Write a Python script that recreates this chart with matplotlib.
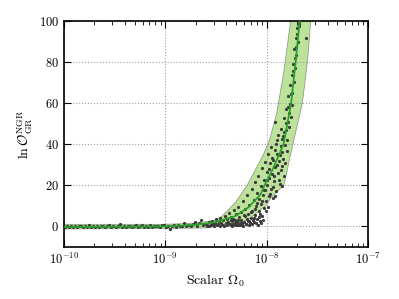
import numpy as np
import matplotlib
matplotlib.use('Agg')
import matplotlib.pyplot as plt

# --- data (x given as log10 Omega_0) ---
med_logx = [-10.0, -9.0, -8.7, -8.51, -8.31, -8.18, -8.06, -8.02, -7.94,
            -7.832, -7.757, -7.713, -7.673, -7.65]
med_y = [-0.3, 0.0, 0.8, 2.0, 5.0, 9.2, 15.5, 20.0, 27.7,
         40.0, 60.0, 80.0, 100.0, 112.0]

# band: upper (left) edge and lower (right) edge
up_logx = [-10.0, -9.0, -8.7, -8.505, -8.439, -8.307, -8.191, -8.109,
           -8.03, -7.97, -7.90, -7.83, -7.762, -7.74]
up_y = [1.0, 1.0, 1.6, 3.0, 5.0, 11.6, 20.0, 27.7,
        35.0, 42.0, 55.0, 75.0, 100.0, 110.0]
lo_logx = [-10.0, -9.0, -8.6, -8.307, -8.178, -8.01, -7.944, -7.829,
           -7.795, -7.752, -7.647, -7.597, -7.564, -7.55]
lo_y = [-1.2, -1.0, -0.7, 1.0, 3.4, 10.0, 14.7, 20.0,
        27.7, 37.4, 60.0, 80.0, 100.0, 106.0]

# individual runs, flat part (Omega_0 < 2.5e-9)
flat_logx = [
    -9.99, -9.97, -9.95, -9.93, -9.91, -9.89, -9.87, -9.85, -9.83, -9.81,
    -9.79, -9.77, -9.75, -9.73, -9.71, -9.69, -9.67, -9.65, -9.63, -9.61,
    -9.59, -9.57, -9.55, -9.53, -9.51, -9.49, -9.47, -9.45, -9.43, -9.41,
    -9.39, -9.37, -9.35, -9.33, -9.31, -9.29, -9.27, -9.25, -9.23, -9.21,
    -9.19, -9.17, -9.15, -9.13, -9.11, -9.09, -9.07, -9.05, -9.03, -9.01,
    -8.99, -8.97, -8.95, -8.93, -8.91, -8.89, -8.87, -8.85, -8.83, -8.81,
    -8.79, -8.77, -8.75, -8.73, -8.71, -8.69, -8.67, -8.65, -8.63, -8.61,
    -8.59,
]
flat_y = [
    -0.3, 0.1, -0.4, 0.2, -0.2, 0.3, -0.5, 0.0, 0.4, -0.3,
    0.2, -0.1, 0.5, -0.4, 0.1, -0.2, 0.3, -0.3, 0.1, 0.4,
    -0.4, 0.0, 0.9, -0.2, 0.3, -0.1, 0.2, 1.0, -0.3, 0.2,
    -0.5, 0.4, 0.0, -0.2, 0.3, 0.6, -0.4, 0.1, 0.5, -0.2,
    0.3, -0.3, 0.8, -0.1, 0.4, 0.0, 0.2, -0.3, 0.6, 0.9,
    -0.1, 0.4, -1.2, 0.2, 0.6, -0.3, 0.9, 0.3, 0.1, 1.5,
    0.4, 0.7, 0.1, 1.2, 2.0, 0.4, 1.6, 3.3, 0.6, 1.1,
    0.2,
]

# individual runs, rising part
rise_logx = [
    -8.583, -8.571, -8.566, -8.552, -8.547, -8.538, -8.524, -8.519, -8.507,
    -8.498, -8.489, -8.476, -8.471, -8.462, -8.455, -8.447, -8.433, -8.428,
    -8.417, -8.409, -8.402, -8.394, -8.386, -8.377, -8.371, -8.362, -8.355,
    -8.346, -8.338, -8.331, -8.324, -8.316, -8.309, -8.302, -8.297,
    -8.288, -8.281, -8.276, -8.268, -8.259, -8.253, -8.247, -8.238, -8.233,
    -8.226, -8.219, -8.211, -8.205, -8.197, -8.192, -8.184, -8.176, -8.169,
    -8.161, -8.155, -8.148, -8.142, -8.134, -8.128, -8.121, -8.114, -8.109,
    -8.103, -8.097, -8.091, -8.084, -8.078, -8.072, -8.066, -8.059, -8.053,
    -8.047, -8.041, -8.036, -8.029, -8.024, -8.018,
    -8.012, -8.006, -7.998, -7.991, -7.985, -7.978, -7.972, -7.966, -7.959,
    -7.953, -7.946, -7.940, -7.934, -7.927, -7.918, -7.915, -7.908, -7.902,
    -7.896, -7.889, -7.882, -7.876, -7.869, -7.862, -7.856, -7.849, -7.843,
    -7.836, -7.829, -7.823, -7.817, -7.811, -7.804, -7.798, -7.791, -7.785,
    -7.779, -7.772, -7.766, -7.759, -7.752, -7.746, -7.739, -7.733, -7.726,
    -7.720, -7.713, -7.707, -7.700, -7.694, -7.688, -7.681, -7.675, -7.614,
]
rise_y = [
    0.9, 2.1, 0.2, 1.4, 0.6, 2.7, 1.0, 0.3, 1.9,
    3.4, 0.7, 1.2, 2.4, 0.4, 4.1, 1.7, 0.9, 2.9,
    0.3, 5.2, 1.5, 3.6, 0.8, 2.2, 6.3, 1.1, 0.5,
    4.5, 2.6, 1.3, 8.1, 0.6, 3.1, 5.9, 1.7,
    2.3, 9.4, 0.8, 4.7, 1.9, 7.2, 3.1, 0.9, 12.5,
    5.4, 2.2, 8.6, 1.4, 3.8, 15.3, 6.1, 2.7, 10.4,
    1.6, 4.3, 18.2, 7.7, 3.0, 12.9, 2.1, 21.4, 5.6,
    9.8, 16.1, 3.5, 24.6, 7.4, 13.3, 2.6, 19.5, 10.7,
    28.3, 5.1, 15.2, 22.8, 8.9, 31.5,
    17.6, 12.3, 26.4, 20.1, 35.2, 14.8, 23.7, 30.9, 18.4,
    38.6, 25.5, 13.6, 32.1, 21.9, 51.0, 28.7, 40.3, 17.2,
    35.4, 26.2, 44.7, 31.6, 20.8, 38.9, 47.5, 29.3, 36.1,
    43.8, 24.5, 52.6, 39.4, 47.1, 57.3, 42.2, 50.8, 63.5,
    55.4, 68.9, 59.7, 53.2, 73.6, 64.8, 79.1, 70.4, 86.3,
    76.9, 91.5, 83.2, 96.4, 89.7, 99.2, 97.3, 99.6, 91.6,
]

# more runs in the rising part (second batch)
more_logx = [
    -8.352, -8.341, -8.327, -8.313, -8.292, -8.284, -8.263, -8.242, -8.228,
    -8.214, -8.199, -8.187, -8.172, -8.158, -8.139, -8.125, -8.117, -8.106,
    -8.094, -8.087, -8.075, -8.062, -8.055, -8.044, -8.033, -8.021, -8.008,
    -7.995, -7.982, -7.975, -7.962, -7.949, -7.938, -7.929, -7.921, -7.912,
    -7.899, -7.892, -7.879, -7.872, -7.859, -7.852, -7.846, -7.839, -7.826,
    -7.814, -7.807, -7.794, -7.788, -7.776, -7.763, -7.749, -7.736, -7.722,
    -7.710, -7.697, -7.684,
]
more_y = [
    2.9, 0.4, 3.7, 1.9, 0.5, 3.3, 0.6, 1.8, 0.4,
    4.9, 1.1, 2.4, 0.7, 6.8, 1.2, 3.9, 8.3, 1.9,
    11.6, 0.9, 4.6, 6.2, 1.5, 12.4, 3.2, 17.9, 7.5,
    22.6, 9.6, 27.8, 15.9, 33.5, 19.1, 24.4, 37.2, 14.6,
    29.8, 41.9, 22.7, 34.8, 27.4, 42.6, 19.8, 33.0, 45.9,
    30.7, 50.3, 36.6, 58.1, 48.4, 64.2, 58.9, 75.5, 81.8,
    87.4, 93.6, 98.5,
]

plt.rcParams['font.family'] = 'serif'
plt.rcParams['font.serif'] = ['cmr10']
plt.rcParams['mathtext.fontset'] = 'cm'
plt.rcParams['axes.formatter.use_mathtext'] = True
plt.rcParams['axes.unicode_minus'] = False

fig = plt.figure(figsize=(3.99, 2.99), dpi=100)
ax = fig.add_axes([0.160, 0.174, 0.762, 0.756])

band_x = 10.0 ** np.concatenate([up_logx, lo_logx[::-1]])
band_y = np.concatenate([up_y, lo_y[::-1]])
ax.fill(band_x, band_y, facecolor='#bde39a', edgecolor='#8f9f85', lw=0.6,
        zorder=1)
dots_x = 10.0 ** np.array(flat_logx + rise_logx + more_logx)
dots_y = flat_y + rise_y + more_y
ax.plot(dots_x, dots_y, 'o', ms=2.3, color='#3a3a3a', mec='none', zorder=2)
ax.plot(10.0 ** np.array(med_logx), med_y, '-', color='#2ca02c', lw=1.3,
        zorder=3)

ax.set_xscale('log')
ax.set_xlim(1e-10, 1e-7)
ax.set_ylim(-10, 100)
ax.set_yticks([0, 20, 40, 60, 80, 100])
ax.grid(True, which='major', ls=':', color='#a0a0a0', lw=0.8)
ax.tick_params(which='both', direction='in', top=True, right=True,
               labelsize=9)
ax.tick_params(which='major', length=5)
ax.tick_params(which='minor', length=3)
for s in ax.spines.values():
    s.set_linewidth(1.2)

ax.set_xlabel(r'Scalar $\Omega_0$', fontsize=10)
ax.set_ylabel(r'$\ln\mathcal{O}^{\rm NGR}_{\rm GR}$', fontsize=10)
ax.yaxis.set_label_coords(-0.095, 0.5)

fig.savefig('out.png', dpi=100)
